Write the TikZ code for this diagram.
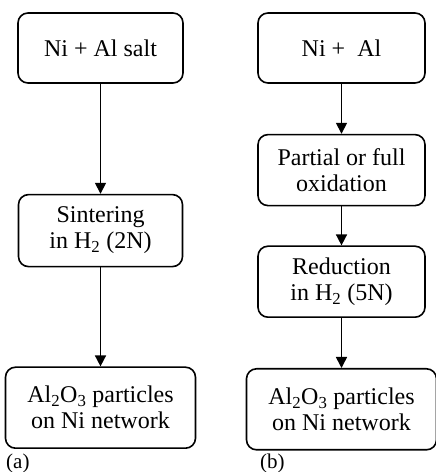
\documentclass[tikz,border=0pt]{standalone}
\usepackage{fontspec}
\setmainfont{Liberation Serif}
\usepackage{tikz}
\usetikzlibrary{arrows.meta, positioning}
\tikzset{
  stepbox/.style  = {rectangle, rounded corners=10pt, draw=black,
                     line width=1.6pt, align=center, inner sep=2pt,
                     font=\fontsize{24}{26}\selectfont,
                     minimum width=167pt, minimum height=71pt},
  endbox/.style   = {stepbox, minimum width=190pt, minimum height=81pt},
  steparrow/.style= {-{Triangle[length=11pt,width=11pt]}, line width=1.6pt},
  panellab/.style = {anchor=west, inner sep=0pt,
                     font=\fontsize{21}{22}\selectfont},
}
\begin{document}
\begin{tikzpicture}
  \useasboundingbox (0,0) rectangle (436pt,472pt);

  % (a) sintering route
  \node[stepbox, minimum width=165pt, minimum height=70pt]
        at (100.5pt,424pt) (asalt) {Ni + Al salt};
  \node[stepbox, minimum width=164pt, minimum height=72pt,
        below=110pt of asalt] (asint) {Sintering\\in H\textsubscript{2} (2N)};
  \node[endbox, below=99pt of asint] (aprod)
        {Al\textsubscript{2}O\textsubscript{3} particles\\on Ni network};
  \node[panellab] at (6pt,9pt) (alab) {(a)};

  % (b) oxidation / reduction route
  \node[stepbox, minimum height=70pt] at (341.5pt,424pt) (bmix) {Ni + \ Al};
  \node[stepbox, below=50pt of bmix] (boxid) {Partial or full\\oxidation};
  \node[stepbox, below=39pt of boxid] (bred) {Reduction\\in H\textsubscript{2} (5N)};
  \node[endbox, below=50pt of bred] (bprod)
        {Al\textsubscript{2}O\textsubscript{3} particles\\on Ni network};
  \node[panellab] at (260pt,9pt) (blab) {(b)};

  \draw[steparrow] (asalt) -- (asint);
  \draw[steparrow] (asint) -- (aprod);
  \draw[steparrow] (bmix) -- (boxid);
  \draw[steparrow] (boxid) -- (bred);
  \draw[steparrow] (bred) -- (bprod);
\end{tikzpicture}
\end{document}
